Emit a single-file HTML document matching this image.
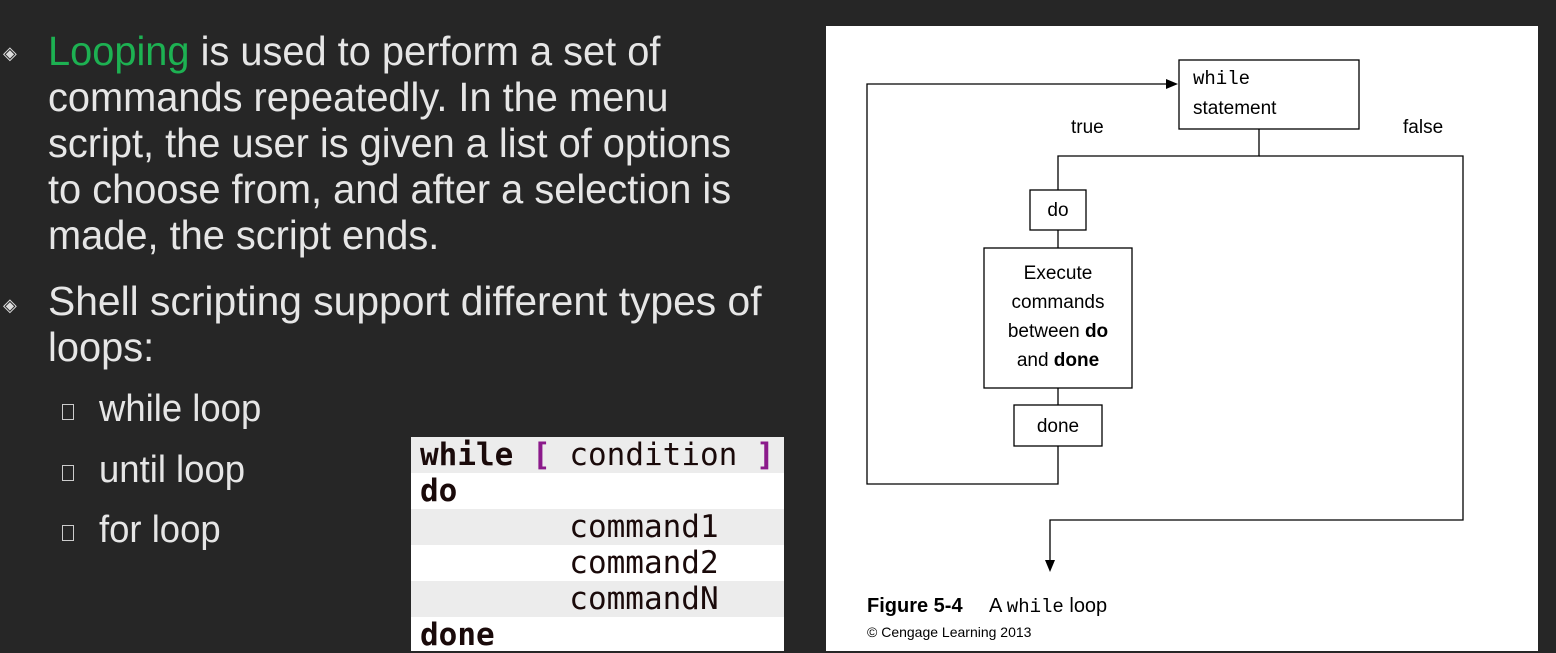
<!DOCTYPE html>
<html><head><meta charset="utf-8"><style>
body{margin:0;width:1556px;height:653px;background:#262626;overflow:hidden;position:relative;font-family:"Liberation Sans",sans-serif;}
.t{position:absolute;color:#e6e6e6;font-size:41px;white-space:nowrap;line-height:46px;transform:scaleX(0.97);transform-origin:0 0;}
.s{position:absolute;color:#e6e6e6;font-size:38px;white-space:nowrap;transform:scaleX(0.96);transform-origin:0 0;}
.d{position:absolute;color:#ddd;font-size:18px;}
.sq{position:absolute;width:10px;height:14px;border:1px solid #ccc;}
.code{position:absolute;left:411px;top:437px;width:373px;height:214px;background:#fff;font-family:"DejaVu Sans Mono","Liberation Mono",monospace;font-size:31px;color:#1a0a0a;}
.code div{height:36px;line-height:36px;padding-left:9px;white-space:pre;}
.g{background:#ececec;}
</style></head><body>
<div class="d" style="left:3px;top:43px">◈</div>
<div class="t" style="left:48px;top:28px"><span style="color:#1db152">Looping</span> is used to perform a set of</div>
<div class="t" style="left:48px;top:74px">commands repeatedly. In the menu</div>
<div class="t" style="left:48px;top:120px">script, the user is given a list of options</div>
<div class="t" style="left:48px;top:166px">to choose from, and after a selection is</div>
<div class="t" style="left:48px;top:212px">made, the script ends.</div>
<div class="d" style="left:3px;top:295px">◈</div>
<div class="t" style="left:48px;top:278px;transform:scaleX(0.995)">Shell scripting support different types of</div>
<div class="t" style="left:48px;top:324px">loops:</div>
<div class="sq" style="left:62px;top:404px"></div><div class="s" style="left:99px;top:388px">while loop</div>
<div class="sq" style="left:62px;top:465px"></div><div class="s" style="left:99px;top:449px">until loop</div>
<div class="sq" style="left:62px;top:525px"></div><div class="s" style="left:99px;top:509px">for loop</div>
<div class="code">
<div class="g"><b>while</b> <b style="color:#8b1a8b">[</b> condition <b style="color:#8b1a8b">]</b></div>
<div><b>do</b></div>
<div class="g">        command1</div>
<div>        command2</div>
<div class="g">        commandN</div>
<div style="height:33px"><b>done</b></div>
</div>
<svg style="position:absolute;left:0;top:0" width="1556" height="653">
<rect x="826" y="26" width="712" height="625" fill="#fff"/>
<g fill="none" stroke="#000" stroke-width="1.3">
<rect x="1179" y="60" width="180" height="69"/>
<rect x="1030" y="190" width="56" height="40"/>
<rect x="984" y="248" width="148" height="140"/>
<rect x="1014" y="405" width="88" height="41"/>
<polyline points="1259,129 1259,156 1058,156 1058,190"/>
<polyline points="1259,156 1463,156 1463,520 1050,520 1050,562"/>
<line x1="1058" y1="230" x2="1058" y2="248"/>
<line x1="1058" y1="388" x2="1058" y2="405"/>
<polyline points="1058,446 1058,484 867,484 867,84 1168,84"/>
</g>
<polygon points="1178,84 1166,79 1166,89" fill="#000"/>
<polygon points="1050,572 1045,560 1055,560" fill="#000"/>
<g font-family="Liberation Sans, sans-serif" font-size="19" fill="#000">
<text x="1193" y="84" font-family="Liberation Mono, monospace" font-size="19">while</text>
<text x="1193" y="114">statement</text>
<text x="1071" y="133">true</text>
<text x="1403" y="133">false</text>
<text x="1058" y="216" text-anchor="middle">do</text>
<text x="1058" y="279" text-anchor="middle">Execute</text>
<text x="1058" y="308" text-anchor="middle">commands</text>
<text x="1058" y="337" text-anchor="middle">between <tspan font-weight="bold">do</tspan></text>
<text x="1058" y="366" text-anchor="middle">and <tspan font-weight="bold">done</tspan></text>
<text x="1058" y="432" text-anchor="middle">done</text>
<text x="867" y="612" font-weight="bold" font-size="20">Figure 5-4</text>
<text x="989" y="612" font-size="20">A <tspan font-family="Liberation Mono, monospace" font-size="19">while</tspan> loop</text>
<text x="867" y="637" font-size="14">© Cengage Learning 2013</text>
</g>
</svg>
</body></html>
